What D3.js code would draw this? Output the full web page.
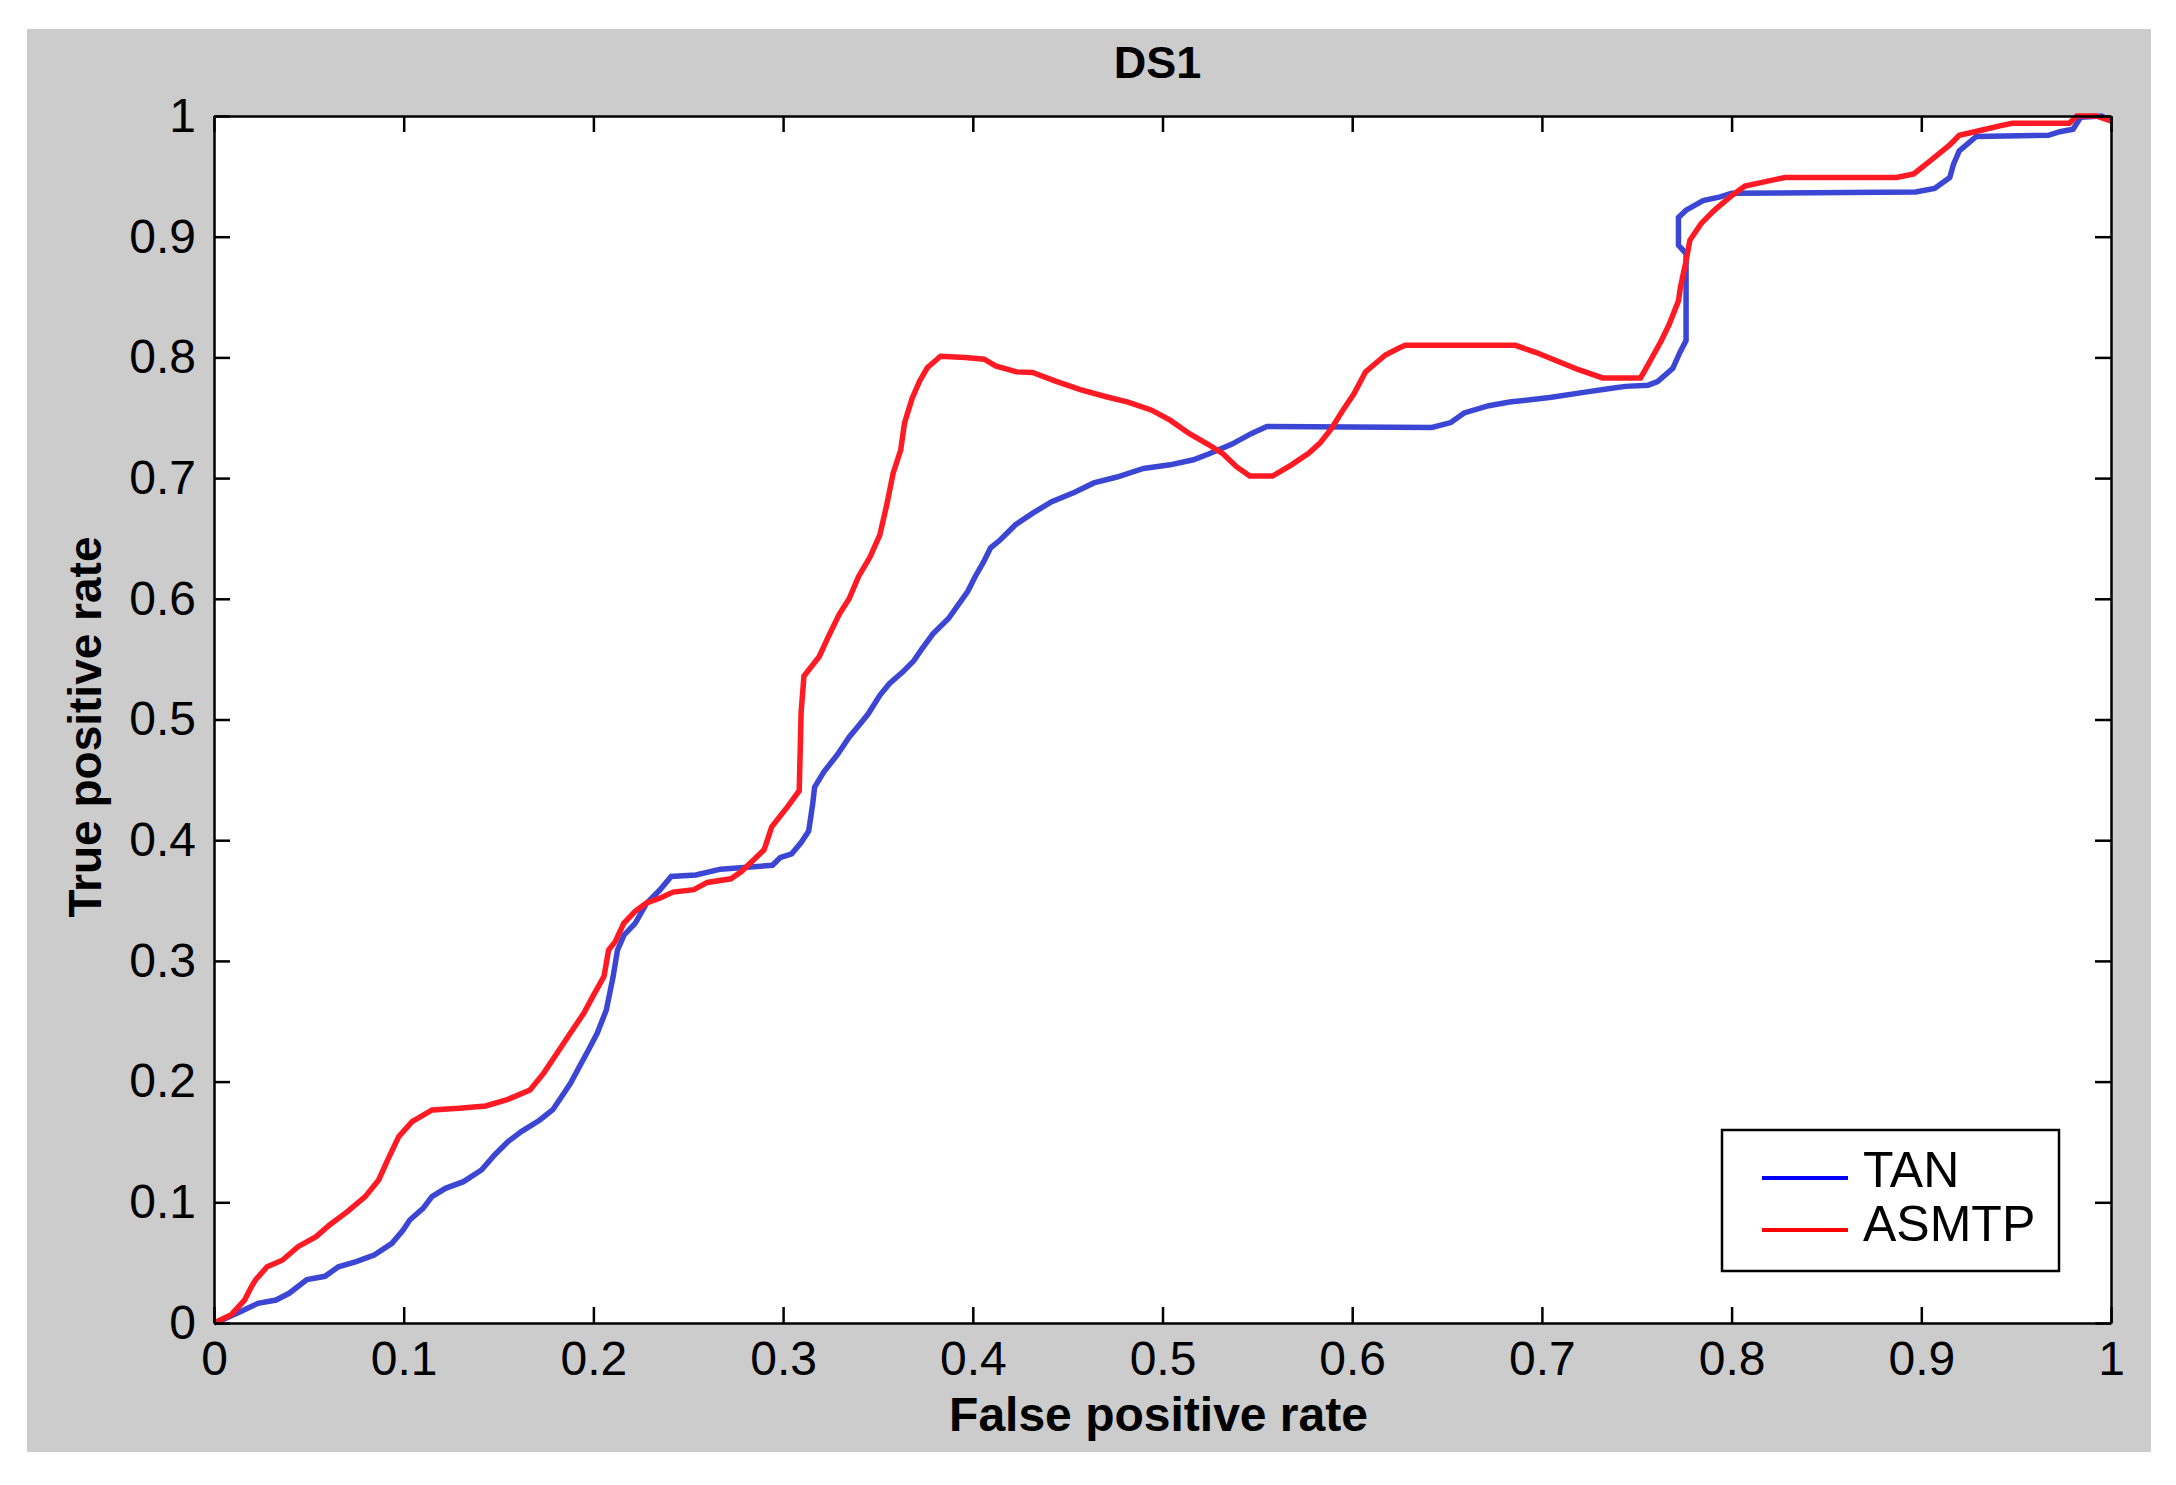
<!DOCTYPE html>
<html>
<head>
<meta charset="utf-8">
<script src="https://cdn.jsdelivr.net/npm/d3@7"></script>
<style>
  body { margin: 0; background: #fff; }
  text { font-family: "Liberation Sans", Arial, sans-serif; }
</style>
</head>
<body>
<svg id="chart" width="2176" height="1485"></svg>
<script>
// ROC data
const seriesNames = ["TAN", "ASMTP"];
const xTicks = [0, 0.1, 0.2, 0.3, 0.4, 0.5, 0.6, 0.7, 0.8, 0.9, 1];
const yTicks = [0, 0.1, 0.2, 0.3, 0.4, 0.5, 0.6, 0.7, 0.8, 0.9, 1];

const tanFpr = [0, 0.0043, 0.0138, 0.0232, 0.0327, 0.0396, 0.049, 0.0585, 0.0656, 0.075, 0.0844, 0.0938, 0.0997, 0.1032, 0.1102, 0.1149, 0.122, 0.1315, 0.141, 0.1479, 0.155, 0.162, 0.1716, 0.1786, 0.1833, 0.188, 0.1927, 0.1974, 0.202, 0.2068, 0.2104, 0.2127, 0.2162, 0.222, 0.228, 0.235, 0.241, 0.254, 0.267, 0.2944, 0.2984, 0.3045, 0.3095, 0.3135, 0.3156, 0.3166, 0.3216, 0.3287, 0.3348, 0.3398, 0.3448, 0.351, 0.356, 0.363, 0.369, 0.373, 0.379, 0.3872, 0.3922, 0.3973, 0.4013, 0.4054, 0.4094, 0.4144, 0.4225, 0.4316, 0.4416, 0.4537, 0.4638, 0.476, 0.49, 0.504, 0.5163, 0.5243, 0.5364, 0.547, 0.555, 0.642, 0.652, 0.659, 0.672, 0.683, 0.705, 0.722, 0.735, 0.744, 0.756, 0.761, 0.769, 0.773, 0.776, 0.776, 0.772, 0.772, 0.776, 0.785, 0.794, 0.80, 0.897, 0.907, 0.915, 0.917, 0.92, 0.929, 0.967, 0.973, 0.98, 0.984, 0.995, 1.0];
const tanTpr = [0, 0.0025, 0.0094, 0.0163, 0.019, 0.0246, 0.0359, 0.0387, 0.0466, 0.0508, 0.0563, 0.066, 0.077, 0.0853, 0.095, 0.1047, 0.1116, 0.1171, 0.1268, 0.1392, 0.1503, 0.1586, 0.168, 0.1767, 0.1877, 0.1988, 0.2126, 0.2262, 0.24, 0.2593, 0.287, 0.309, 0.3215, 0.3311, 0.3477, 0.3587, 0.37, 0.3712, 0.376, 0.3792, 0.3855, 0.3887, 0.398, 0.4077, 0.43, 0.444, 0.4568, 0.471, 0.4853, 0.4949, 0.5045, 0.52, 0.5297, 0.5393, 0.5488, 0.5582, 0.571, 0.5837, 0.5948, 0.606, 0.6185, 0.6297, 0.6423, 0.6487, 0.6614, 0.671, 0.6804, 0.6883, 0.696, 0.7009, 0.708, 0.711, 0.7152, 0.72, 0.728, 0.737, 0.7427, 0.742, 0.746, 0.754, 0.76, 0.763, 0.767, 0.771, 0.774, 0.776, 0.777, 0.78, 0.791, 0.805, 0.814, 0.886, 0.893, 0.916, 0.922, 0.93, 0.933, 0.936, 0.937, 0.94, 0.949, 0.96, 0.971, 0.983, 0.984, 0.987, 0.989, 0.999, 1.0, 0.996];

const asmtpFpr = [0, 0.0091, 0.0161, 0.0197, 0.022, 0.028, 0.036, 0.0443, 0.0538, 0.0609, 0.0703, 0.0797, 0.0868, 0.0915, 0.0974, 0.1044, 0.115, 0.1292, 0.1432, 0.155, 0.1666, 0.1738, 0.1809, 0.1879, 0.195, 0.1997, 0.2056, 0.208, 0.2115, 0.216, 0.222, 0.228, 0.235, 0.242, 0.253, 0.26, 0.2725, 0.278, 0.2844, 0.290, 0.294, 0.3025, 0.3085, 0.3095, 0.311, 0.319, 0.324, 0.3295, 0.3348, 0.3398, 0.3458, 0.351, 0.3548, 0.358, 0.362, 0.364, 0.368, 0.372, 0.376, 0.383, 0.396, 0.406, 0.412, 0.423, 0.4315, 0.4436, 0.4567, 0.4698, 0.4818, 0.494, 0.504, 0.514, 0.524, 0.532, 0.539, 0.546, 0.558, 0.568, 0.577, 0.583, 0.589, 0.595, 0.601, 0.607, 0.6175, 0.6247, 0.628, 0.686, 0.697, 0.708, 0.719, 0.732, 0.752, 0.756, 0.763, 0.767, 0.772, 0.773, 0.776, 0.778, 0.784, 0.791, 0.80, 0.807, 0.816, 0.828, 0.887, 0.896, 0.904, 0.915, 0.92, 0.931, 0.942, 0.948, 0.978, 0.982, 0.992, 1.0];
const asmtpTpr = [0, 0.0069, 0.019, 0.030, 0.0359, 0.0466, 0.052, 0.0632, 0.0715, 0.0812, 0.0922, 0.1047, 0.1185, 0.135, 0.1544, 0.1668, 0.1765, 0.1779, 0.1798, 0.1853, 0.193, 0.207, 0.2237, 0.2403, 0.2568, 0.2706, 0.2872, 0.309, 0.316, 0.3311, 0.341, 0.348, 0.352, 0.357, 0.359, 0.365, 0.368, 0.374, 0.3836, 0.392, 0.411, 0.428, 0.441, 0.506, 0.536, 0.552, 0.569, 0.587, 0.6, 0.6185, 0.6346, 0.653, 0.679, 0.704, 0.7233, 0.7456, 0.766, 0.7805, 0.7914, 0.801, 0.80, 0.7985, 0.793, 0.788, 0.7875, 0.7803, 0.7733, 0.7676, 0.763, 0.7565, 0.748, 0.737, 0.728, 0.72, 0.7095, 0.7017, 0.7017, 0.711, 0.7205, 0.729, 0.741, 0.756, 0.77, 0.788, 0.802, 0.8077, 0.81, 0.81, 0.804, 0.797, 0.79, 0.783, 0.783, 0.794, 0.814, 0.827, 0.847, 0.858, 0.88, 0.897, 0.911, 0.922, 0.934, 0.942, 0.945, 0.949, 0.949, 0.952, 0.962, 0.976, 0.984, 0.988, 0.992, 0.994, 0.994, 1.0, 1.0, 0.996];

const svg = d3.select("#chart");

// grey figure area
svg.append("rect")
   .attr("x", 27).attr("y", 29)
   .attr("width", 2124).attr("height", 1423)
   .attr("fill", "#cccccc");

const margin = {left: 214, top: 116, right: 2111, bottom: 1323};
const width = margin.right - margin.left,
      height = margin.bottom - margin.top;

const g = svg.append("g").attr("transform", `translate(${margin.left},${margin.top})`);

g.append("rect")
 .attr("width", width).attr("height", height)
 .attr("fill", "#fff");

const x = d3.scaleLinear().domain([0, 1]).range([0, width]);
const y = d3.scaleLinear().domain([0, 1]).range([height, 0]);

const fmt = d => d === 0 ? "0" : d === 1 ? "1" : d3.format(".1f")(d);

// curves
const line = d3.line().x(d => x(d[0])).y(d => y(d[1]));
const tan = d3.zip(tanFpr, tanTpr);
const asmtp = d3.zip(asmtpFpr, asmtpTpr);

g.append("path").datum(tan)
 .attr("d", line).attr("fill", "none")
 .attr("stroke", "#3b46d4").attr("stroke-width", 5.5);

g.append("path").datum(asmtp)
 .attr("d", line).attr("fill", "none")
 .attr("stroke", "#ff1a24").attr("stroke-width", 5.5);

// axes (ticks pointing inward, box on all sides)
function styleAxis(sel) {
  sel.select(".domain").attr("stroke", "#000").attr("stroke-width", 2.5);
  sel.selectAll(".tick line").attr("stroke", "#000").attr("stroke-width", 2.5);
  sel.selectAll("text")
     .style("font-family", "'Liberation Sans', Arial, sans-serif")
     .style("font-size", "48px")
     .attr("fill", "#000");
}

g.append("g")
 .attr("transform", `translate(0,${height})`)
 .call(d3.axisBottom(x).tickValues(xTicks).tickFormat(fmt).tickSizeInner(-16).tickSizeOuter(0).tickPadding(18))
 .call(styleAxis);

g.append("g")
 .call(d3.axisLeft(y).tickValues(yTicks).tickFormat(fmt).tickSizeInner(-16).tickSizeOuter(0).tickPadding(18))
 .call(styleAxis);

g.append("g")
 .call(d3.axisTop(x).tickValues(xTicks).tickFormat("").tickSizeInner(-16).tickSizeOuter(0))
 .call(styleAxis);

g.append("g")
 .attr("transform", `translate(${width},0)`)
 .call(d3.axisRight(y).tickValues(yTicks).tickFormat("").tickSizeInner(-16).tickSizeOuter(0))
 .call(styleAxis);

// title and axis labels
svg.append("text")
   .attr("x", margin.left + width / 2 - 5).attr("y", 78)
   .attr("text-anchor", "middle")
   .style("font-size", "45px").style("font-weight", "bold")
   .text("DS1");

svg.append("text")
   .attr("x", margin.left + width / 2 - 4).attr("y", 1431)
   .attr("text-anchor", "middle")
   .style("font-size", "48px").style("font-weight", "bold")
   .text("False positive rate");

svg.append("text")
   .attr("transform", `translate(101,727) rotate(-90)`)
   .attr("text-anchor", "middle")
   .style("font-size", "46px").style("font-weight", "bold")
   .text("True positive rate");

// legend
const legend = svg.append("g").attr("transform", "translate(1722,1130)");
legend.append("rect")
      .attr("width", 337).attr("height", 141)
      .attr("fill", "#fff").attr("stroke", "#000").attr("stroke-width", 2.5);

const legendColors = ["#0000ff", "#ff0000"];
seriesNames.forEach((name, i) => {
  const ly = 48 + i * 52;
  legend.append("line")
        .attr("x1", 40).attr("x2", 126)
        .attr("y1", ly).attr("y2", ly)
        .attr("stroke", legendColors[i]).attr("stroke-width", 4);
  legend.append("text")
        .attr("x", 141).attr("y", ly + 9 + i * 2)
        .style("font-size", "50px")
        .text(name);
});
</script>
</body>
</html>
